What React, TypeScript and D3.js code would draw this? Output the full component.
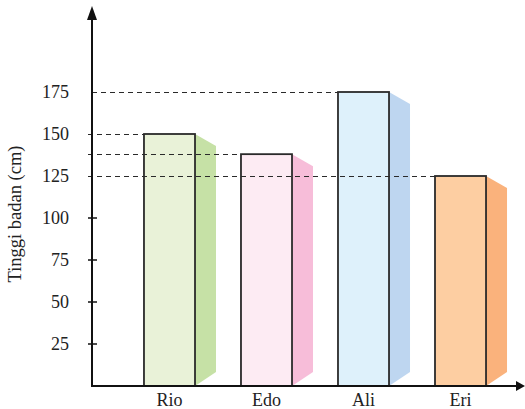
import React from "react";
import * as d3 from "d3";

const categories = ["Rio", "Edo", "Ali", "Eri"];
const heights = [150, 138, 175, 125];
const tickValues = [25, 50, 75, 100, 125, 150, 175];
const frontColors = ["#e9f2d8", "#fdebf3", "#def1fb", "#fdcea2"];
const sideColors = ["#c6e1a6", "#f7bdd9", "#bed6f0", "#fab27c"];

const W = 525;
const H = 409;
const axisX = 92;
const y0 = 386;

export default function App() {
  const y = d3.scaleLinear().domain([0, 175]).range([y0, 92]);
  const x = d3
    .scaleBand<string>()
    .domain(categories)
    .range([98, 532])
    .paddingInner(0.474)
    .paddingOuter(0.474);
  const bw = x.bandwidth();
  const sideW = 21;
  const sideTop = 12;
  const sideBottom = 14;
  const font = "'Liberation Serif', 'Times New Roman', serif";
  const dashedTicks = new Set([125, 150, 175]);

  return (
    <svg
      width={W}
      height={H}
      style={{ position: "absolute", left: 0, top: 0, background: "#fff" }}
      fontFamily={font}
    >
      {/* bars */}
      {categories.map((c, i) => {
        const xl = x(c)!;
        const xr = xl + bw;
        const yt = y(heights[i]);
        const side = [
          [xr, yt],
          [xr + sideW, yt + sideTop],
          [xr + sideW, y0 - sideBottom],
          [xr, y0],
        ];
        return (
          <g key={c}>
            <polygon
              points={side.map((p) => p.join(",")).join(" ")}
              fill={sideColors[i]}
            />
            <rect
              x={xl}
              y={yt}
              width={bw}
              height={y0 - yt}
              fill={frontColors[i]}
              stroke="#2a2a2a"
              strokeWidth={1.8}
            />
          </g>
        );
      })}

      {/* dashed reference lines */}
      {categories.map((c, i) => {
        const yy = Math.round(y(heights[i])) + 0.5;
        const startX = heights[i] === 175 ? axisX : axisX - 4;
        return (
          <line
            key={"d" + c}
            x1={startX}
            x2={x(c)!}
            y1={yy}
            y2={yy}
            stroke="#2a2a2a"
            strokeWidth={1}
            strokeDasharray="5,4"
          />
        );
      })}

      {/* small ticks */}
      {tickValues
        .filter((t) => !dashedTicks.has(t))
        .map((t) => (
          <line
            key={"t" + t}
            x1={axisX - 4}
            x2={axisX + 5}
            y1={y(t)}
            y2={y(t)}
            stroke="#111"
            strokeWidth={1.5}
          />
        ))}

      {/* tick labels */}
      {tickValues.map((t) => (
        <text
          key={"l" + t}
          x={69}
          y={y(t)}
          dy="0.35em"
          textAnchor="end"
          fontSize={18}
          fill="#222"
        >
          {t}
        </text>
      ))}

      {/* axes */}
      <line x1={axisX} x2={axisX} y1={y0 + 1} y2={18} stroke="#111" strokeWidth={2} />
      <polygon
        points={`${axisX},6 ${axisX - 5},20 ${axisX + 5},20`}
        fill="#111"
      />
      <line x1={axisX - 1} x2={517} y1={y0} y2={y0} stroke="#111" strokeWidth={2} />
      <polygon points={`525,${y0} 516,${y0 - 5} 516,${y0 + 5}`} fill="#111" />

      {/* category labels */}
      {categories.map((c) => (
        <text
          key={"c" + c}
          x={x(c)! + bw / 2}
          y={406}
          textAnchor="middle"
          fontSize={18}
          fill="#222"
        >
          {c}
        </text>
      ))}

      {/* y axis title */}
      <text
        transform={`translate(21,214) rotate(-90)`}
        textAnchor="middle"
        fontSize={18.5}
        fill="#222"
      >
        Tinggi badan (cm)
      </text>
    </svg>
  );
}
